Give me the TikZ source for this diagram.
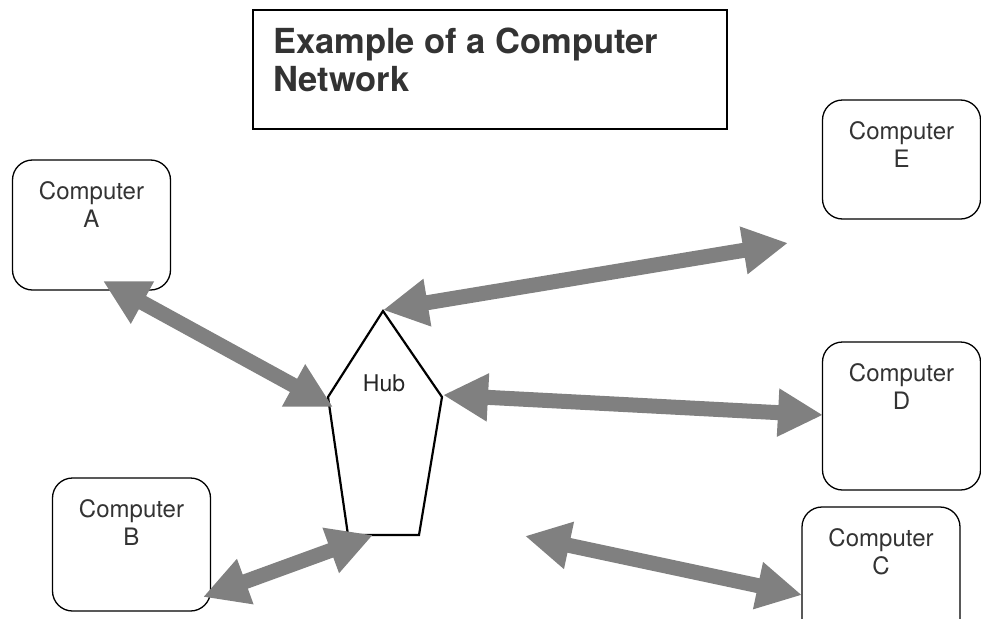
\documentclass[tikz,border=0pt]{standalone}
\usepackage{fontspec}
\setmainfont{TeX Gyre Heros}
\usetikzlibrary{arrows.meta}
\definecolor{txt}{HTML}{333333}
\definecolor{arrowgray}{HTML}{808080}
\begin{document}
\begin{tikzpicture}[x=1pt,y=-1pt,
  comp/.style={draw=black, line width=1.3pt, rounded corners=20pt, inner sep=0pt, minimum width=158pt},
  lbl/.style={anchor=north, inner sep=0pt, align=center, text=txt, font=\fontsize{24}{28}\selectfont},
  titlebox/.style={draw=black, line width=1.8pt, inner sep=0pt, minimum width=474pt, minimum height=119pt},
  titletext/.style={anchor=north west, inner sep=0pt, align=left, text=txt, font=\fontsize{34.5}{38}\selectfont\bfseries},
  hubline/.style={draw=black, line width=2.2pt, line join=miter},
  hubtext/.style={inner sep=0pt, text=black!85, font=\fontsize{23}{26}\selectfont},
  fat/.style={draw=arrowgray, line width=15pt, line cap=butt,
    arrows={Triangle[length=45pt,width=45pt]-Triangle[length=45pt,width=45pt]}}
]
\clip (0,0) rectangle (981,618);
\fill[white] (0,0) rectangle (981,618);

% title
\node[titlebox] (tbox) at (490,69.5) {};
\node[titletext] (title) at (273,28) {Example of a Computer\\Network};

% computers
\node[comp, minimum height=130pt] (A) at (91.5,225) {};
\node[lbl] (Alab) at ([yshift=-22pt]A.north) {Computer\\A};
\node[comp, minimum height=133pt] (B) at (131.5,544.5) {};
\node[lbl] (Blab) at ([yshift=-22pt]B.north) {Computer\\B};
\node[comp, minimum height=119pt] (E) at (901.5,159.5) {};
\node[lbl] (Elab) at ([yshift=-22pt]E.north) {Computer\\E};
\node[comp, minimum height=148pt] (D) at (901.5,416) {};
\node[lbl] (Dlab) at ([yshift=-22pt]D.north) {Computer\\D};
\node[comp, minimum height=140pt] (C) at (881,577) {};
\node[lbl] (Clab) at ([yshift=-22pt]C.north) {Computer\\C};

% hub
\coordinate (hT) at (383,311);
\coordinate (hR) at (442,397);
\coordinate (hBR) at (419,535);
\coordinate (hBL) at (348,535);
\coordinate (hL) at (328,397);
\draw[hubline] (hT) -- (hR) -- (hBR) -- (hBL) -- (hL) -- cycle;
\node[hubtext] (hub) at (384,383) {Hub};

% arrow end points
\coordinate (aA) at (103,281);
\coordinate (aH) at (333,407);
\coordinate (eH) at (383,310);
\coordinate (eE) at (788,243);
\coordinate (dH) at (443,395);
\coordinate (dD) at (823,415);
\coordinate (bB) at (203,597);
\coordinate (bH) at (373,535);
\coordinate (cH) at (525,536);
\coordinate (cC) at (802,595);

\draw[fat] (aA) -- (aH);
\draw[fat] (eH) -- (eE);
\draw[fat] (dH) -- (dD);
\draw[fat] (bB) -- (bH);
\draw[fat] (cH) -- (cC);
\end{tikzpicture}
\end{document}
